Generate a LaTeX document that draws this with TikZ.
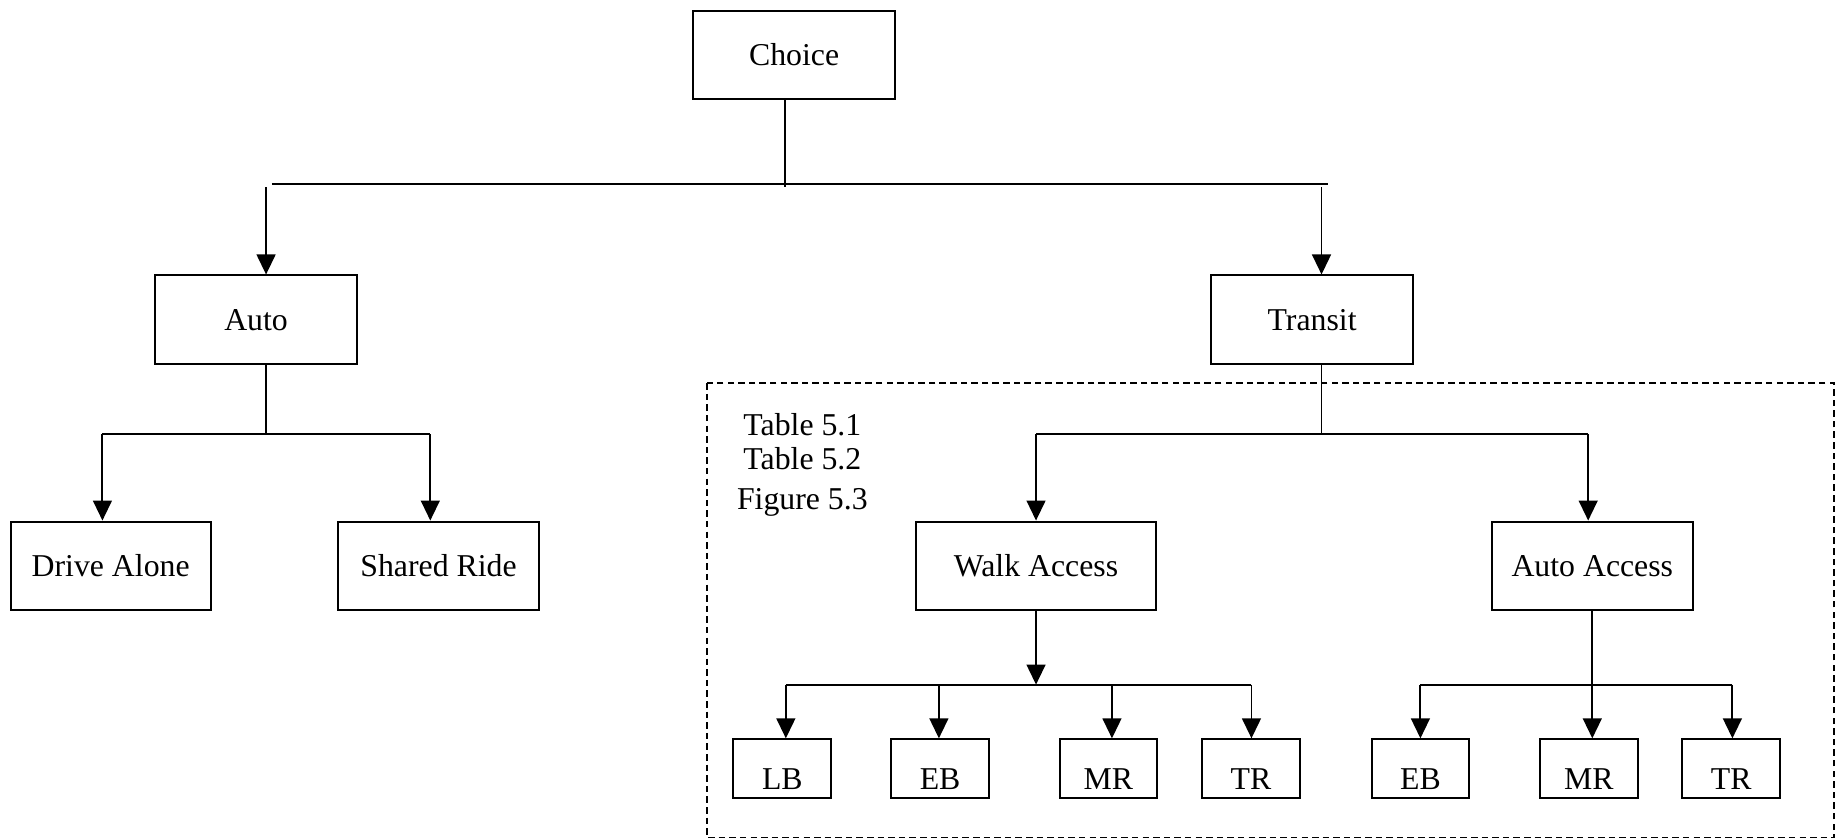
\documentclass[tikz,border=0pt]{standalone}
\usepackage{fontspec}
\setmainfont{Liberation Serif}
\usetikzlibrary{arrows.meta}
\tikzset{
  box/.style={draw, line width=1.7pt, rectangle, inner sep=0pt, minimum height=75pt,
    font=\fontsize{27}{32}\selectfont, text height=18pt, text depth=0pt},
  smallbox/.style={draw, line width=1.7pt, rectangle, inner sep=0pt, minimum width=83pt,
    minimum height=50pt, font=\fontsize{27}{32}\selectfont, text height=35pt, text depth=0pt},
  lbl/.style={inner sep=0pt, anchor=base, font=\fontsize{27}{32}\selectfont},
  conn/.style={line width=1.6pt},
  arr/.style={line width=1.6pt, -{Triangle[length=17pt, width=16pt]}},
  grp/.style={line width=1.3pt, dash pattern=on 5.5pt off 3.5pt}
}
\begin{document}
\begin{tikzpicture}[x=1pt, y=-1pt]
\useasboundingbox (0,0) rectangle (1568,713);

% group frame
\draw[grp] (600.5,325.5) rectangle (1558,711.5);

% boxes
\node[box, minimum width=171pt] (choice) at (674.5,46.5) {Choice};
\node[box, minimum width=171pt] (auto) at (217.5,271.5) {Auto};
\node[box, minimum width=171pt] (transit) at (1114.5,271.5) {Transit};
\node[box, minimum width=170pt] (drive) at (94,480.5) {Drive Alone};
\node[box, minimum width=171pt] (shared) at (372.5,480.5) {Shared Ride};
\node[box, minimum width=204pt] (walk) at (880,480.5) {Walk Access};
\node[box, minimum width=171pt] (autoacc) at (1352.5,480.5) {Auto Access};

\node[smallbox] (lb) at (664.5,653) {LB};
\node[smallbox] (eb1) at (798.5,653) {EB};
\node[smallbox] (mr1) at (941.5,653) {MR};
\node[smallbox] (tr1) at (1062.5,653) {TR};
\node[smallbox] (eb2) at (1206.5,653) {EB};
\node[smallbox] (mr2) at (1349.5,653) {MR};
\node[smallbox] (tr2) at (1470.5,653) {TR};

% table references
\node[lbl] (t1) at (681.5,369.5) {Table 5.1};
\node[lbl] (t2) at (681.5,398.5) {Table 5.2};
\node[lbl] (t3) at (681.5,432.5) {Figure 5.3};

% top level connectors
\coordinate (cs) at (666.5,159);
\coordinate (hl) at (231,156);
\coordinate (hr) at (1128,156);
\coordinate (ca) at (226,159);
\coordinate (ct) at (1122.5,159);
\draw[conn] (cs |- choice.south) -- (cs);
\draw[conn] (hl) -- (hr);
\draw[arr] (ca) -- (ca |- auto.north);
\draw[arr] (ct) -- (ct |- transit.north);

% auto branch
\coordinate (al) at (87,369);
\coordinate (ar) at (365.5,369);
\draw[conn] (auto.south -| ca) -- (ca |- al);
\draw[conn] (al) -- (ar);
\draw[arr] (al) -- (al |- drive.north);
\draw[arr] (ar) -- (ar |- shared.north);

% transit branch
\coordinate (tl) at (880,368.5);
\coordinate (tr) at (1349,368.5);
\draw[conn] (transit.south -| ct) -- (ct |- tl);
\draw[conn] (tl) -- (tr);
\draw[arr] (tl) -- (tl |- walk.north);
\draw[arr] (tr) -- (tr |- autoacc.north);

% walk access branch
\coordinate (wj) at (880,581.5);
\coordinate (w1) at (667.5,581.5);
\coordinate (w2) at (797.5,581.5);
\coordinate (w3) at (944.5,581.5);
\coordinate (w4) at (1063,581.5);
\draw[arr] (walk.south) -- (wj);
\draw[conn] (w1) -- (w4);
\draw[arr] (w1) -- (w1 |- lb.north);
\draw[arr] (w2) -- (w2 |- eb1.north);
\draw[arr] (w3) -- (w3 |- mr1.north);
\draw[arr] (w4) -- (w4 |- tr1.north);

% auto access branch
\coordinate (a1) at (1206.5,581.5);
\coordinate (a3) at (1471.5,581.5);
\draw[conn] (a1) -- (a3);
\draw[arr] (autoacc.south) -- (autoacc.south |- mr2.north);
\draw[arr] (a1) -- (a1 |- eb2.north);
\draw[arr] (a3) -- (a3 |- tr2.north);
\end{tikzpicture}
\end{document}
